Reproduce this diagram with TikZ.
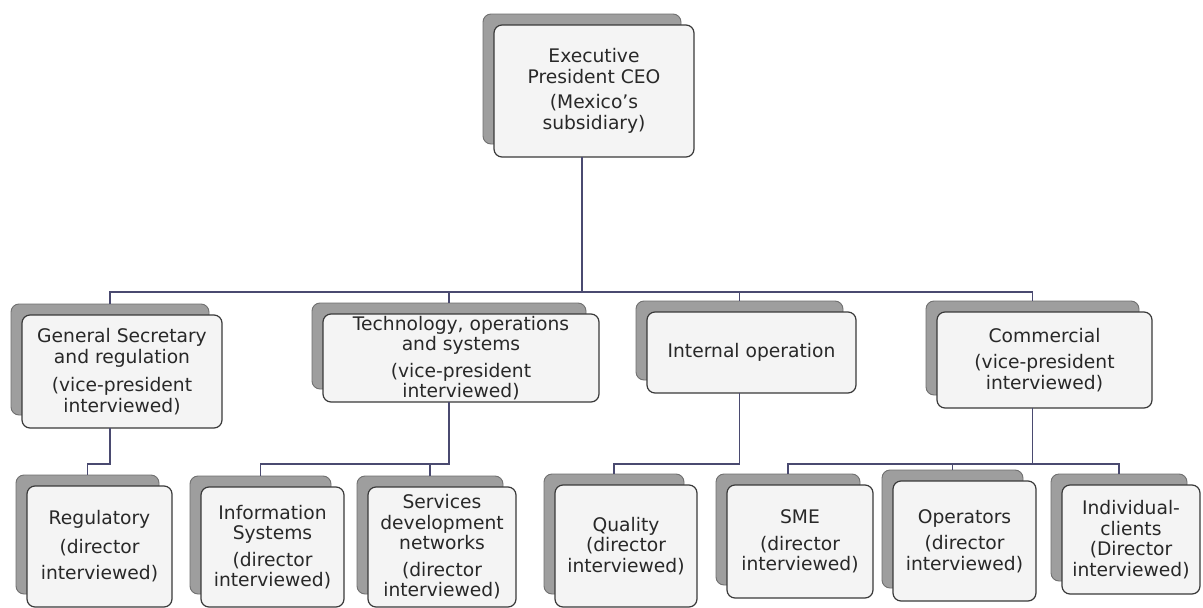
\documentclass[tikz,border=0pt]{standalone}
\usepackage{fontspec}
\setmainfont{DejaVu Sans}
\usepackage{tikz}

\definecolor{backgray}{RGB}{158,158,158}
\definecolor{backline}{RGB}{112,112,112}
\definecolor{frontfill}{RGB}{244,244,244}
\definecolor{frontline}{RGB}{58,58,58}
\definecolor{linkblue}{RGB}{74,74,112}
\definecolor{textgray}{RGB}{40,40,40}

% name, left, top, right, bottom, text
\newcommand{\unitbox}[6]{%
  \draw[back] (#2-11,#3-11) rectangle (#4-13,#5-13);
  \node[front, minimum width={#4-#2}, minimum height={#5-#3}] (#1) at ({(#2+#4)/2},{(#3+#5)/2}) {};
  \node[unit text] (#1-text) at (#1) {#6};
  \coordinate (#1-up) at ({(#2+#4)/2-12},#3-11);
  \coordinate (#1-dn) at ({(#2+#4)/2-12},#5);
}

\begin{document}
\begin{tikzpicture}[
x=1pt, y=-1pt,
back/.style={
    draw=backline,
    fill=backgray,
    line width=0.9pt,
    rounded corners=8pt
},
front/.style={
    draw=frontline,
    fill=frontfill,
    line width=1.2pt,
    rounded corners=8pt,
    inner sep=0pt
},
unit text/.style={
    align=center,
    text=textgray,
    font=\fontsize{18.7}{20.5}\selectfont
},
link/.style={
    draw=linkblue,
    line width=1.3pt
}
]

\fill[white] (0,0) rectangle (1203,608);
\useasboundingbox (0,0) rectangle (1203,608);

\unitbox{ceo}{494}{25}{694}{157}{Executive\\President CEO\\[5pt](Mexico’s\\subsidiary)}

\unitbox{gs}{22}{315}{222}{428}{General Secretary\\and regulation\\[8pt](vice-president\\interviewed)}
\unitbox{tech}{323}{314}{599}{402}{Technology, operations\\and systems\\[6pt](vice-president\\interviewed)}
\unitbox{intop}{647}{312}{856}{393}{Internal operation}
\unitbox{comm}{937}{312}{1152}{408}{Commercial\\[6pt](vice-president\\interviewed)}

\unitbox{reg}{27}{486}{172}{607}{Regulatory\\[8pt](director\\[6pt]interviewed)}
\unitbox{is}{201}{487}{344}{607}{Information\\Systems\\[6pt](director\\interviewed)}
\unitbox{svc}{368}{487}{516}{607}{Services\\development\\networks\\[6pt](director\\interviewed)}
\unitbox{qual}{555}{485}{697}{607}{Quality\\(director\\interviewed)}
\unitbox{sme}{727}{485}{873}{598}{SME\\[6pt](director\\interviewed)}
\unitbox{oper}{893}{481}{1036}{601}{Operators\\[6pt](director\\interviewed)}
\unitbox{indiv}{1062}{485}{1200}{594}{Individual-\\clients\\(Director\\interviewed)}

\coordinate (bus1) at (0,292);
\coordinate (bus2) at (0,464);

\foreach \kid in {gs,tech,intop,comm}
    \draw[link] (ceo-dn) |- (bus1 -| \kid-up) -- (\kid-up);

\draw[link] (gs-dn) |- (bus2 -| reg-up) -- (reg-up);
\foreach \kid in {is,svc}
    \draw[link] (tech-dn) |- (bus2 -| \kid-up) -- (\kid-up);
\draw[link] (intop-dn) |- (bus2 -| qual-up) -- (qual-up);
\foreach \kid in {sme,oper,indiv}
    \draw[link] (comm-dn) |- (bus2 -| \kid-up) -- (\kid-up);

\end{tikzpicture}
\end{document}
